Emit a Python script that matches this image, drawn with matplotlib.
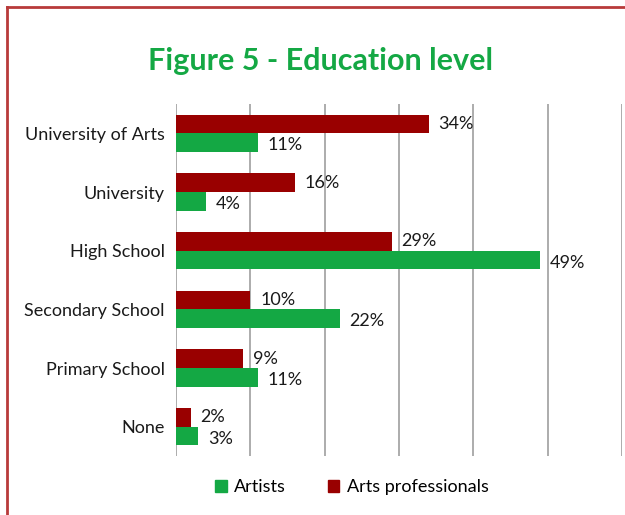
import numpy as np
import matplotlib
matplotlib.use('Agg')
import matplotlib.pyplot as plt
from matplotlib.patches import Patch
from matplotlib.lines import Line2D

# Chart data
categories = ['University of Arts', 'University', 'High School',
              'Secondary School', 'Primary School', 'None']
artists = [11, 4, 49, 22, 11, 3]
professionals = [34, 16, 29, 10, 9, 2]

green = '#14a844'
red = '#990000'
border = '#b83a3a'

plt.rcParams['font.family'] = ['Lato', 'DejaVu Sans']

fig = plt.figure(figsize=(6.25, 5.15), dpi=100)
ax = fig.add_axes([176 / 625, 1 - 456 / 515, 446 / 625, 352 / 515])

y = np.arange(len(categories))
h = 0.32
ax.barh(y - h / 2, professionals, height=h, color=red, zorder=3)
ax.barh(y + h / 2, artists, height=h, color=green, zorder=3)

# value labels
for yi, v in zip(y, professionals):
    ax.annotate(f'{v}%', (v, yi - h / 2), xytext=(7, 0), textcoords='offset points',
                va='center', ha='left', fontsize=13, color='#1a1a1a')
for yi, v in zip(y, artists):
    ax.annotate(f'{v}%', (v, yi + h / 2), xytext=(7, -2), textcoords='offset points',
                va='center', ha='left', fontsize=13, color='#1a1a1a')

ax.set_xlim(0, 60)
ax.set_ylim(len(categories) - 0.5, -0.5)
ax.set_xticks(np.arange(0, 61, 10))
ax.set_xticklabels([])
ax.set_yticks(y)
ax.set_yticklabels(categories, fontsize=13, color='#1a1a1a')
ax.tick_params(length=0, pad=8)
ax.grid(axis='x', color='#a6a6a6', linewidth=1.3, zorder=0)
for s in ax.spines.values():
    s.set_visible(False)

fig.text(0.513, 1 - 61 / 515, 'Figure 5 - Education level', ha='center', va='center',
         fontsize=22, fontweight='bold', color=green)

handles = [Patch(color=green, label='Artists'), Patch(color=red, label='Arts professionals')]
fig.legend(handles=handles, loc='center', bbox_to_anchor=(352 / 625, 1 - 487 / 515),
           ncol=2, frameon=False, fontsize=13, handlelength=0.65, handleheight=0.65,
           handletextpad=0.4, columnspacing=2.3)

# frame border (top and left)
fig.add_artist(Line2D([7 / 625, 7 / 625], [0, 1 - 7 / 515], transform=fig.transFigure,
                      color=border, linewidth=2.0))
fig.add_artist(Line2D([7 / 625, 1], [1 - 7 / 515, 1 - 7 / 515], transform=fig.transFigure,
                      color=border, linewidth=2.0))

fig.savefig('out.png', dpi=100)
